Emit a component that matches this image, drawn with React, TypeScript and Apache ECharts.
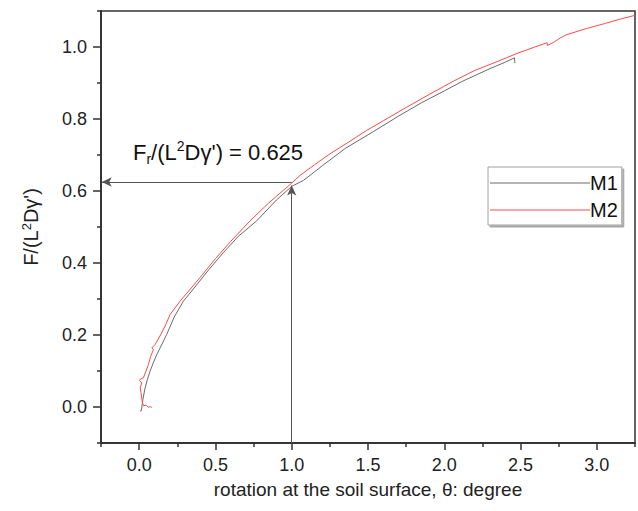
import React, { useEffect, useRef } from "react";
import * as echarts from "echarts";

const m1X = [0.007, 0.012, 0.017, 0.024, 0.039, 0.055, 0.072, 0.095, 0.116, 0.15, 0.181, 0.23, 0.29, 0.35, 0.45, 0.55, 0.65, 0.77, 0.9, 1.0, 1.076, 1.2, 1.35, 1.535, 1.7, 1.85, 2.0, 2.12, 2.3, 2.4, 2.46, 2.463];
const m1Y = [-0.01, -0.012, -0.003, 0.02, 0.053, 0.078, 0.1, 0.125, 0.146, 0.175, 0.202, 0.25, 0.294, 0.325, 0.378, 0.428, 0.474, 0.517, 0.575, 0.613, 0.629, 0.67, 0.718, 0.765, 0.808, 0.845, 0.878, 0.905, 0.94, 0.958, 0.97, 0.955];

const m2X = [0.083, 0.07, 0.061, 0.05, 0.039, 0.03, 0.022, 0.017, 0.012, 0.007, 0.017, 0.002, 0.01, 0.028, 0.045, 0.061, 0.075, 0.094, 0.083, 0.105, 0.14, 0.17, 0.203, 0.268, 0.33, 0.4, 0.5, 0.6, 0.727, 0.85, 1.0, 1.054, 1.15, 1.25, 1.37, 1.49, 1.6, 1.75, 1.9, 2.06, 2.2, 2.35, 2.47, 2.58, 2.674, 2.676, 2.72, 2.76, 2.8, 2.93, 3.05, 3.15, 3.25];
const m2Y = [-0.001, 0.001, -0.001, 0.004, 0.005, 0.003, 0.011, 0.025, 0.04, 0.053, 0.067, 0.074, 0.078, 0.081, 0.1, 0.118, 0.14, 0.16, 0.164, 0.174, 0.2, 0.225, 0.257, 0.294, 0.325, 0.36, 0.412, 0.46, 0.517, 0.567, 0.622, 0.643, 0.673, 0.703, 0.735, 0.768, 0.795, 0.832, 0.868, 0.905, 0.935, 0.96, 0.981, 0.998, 1.012, 1.004, 1.014, 1.025, 1.034, 1.051, 1.065, 1.077, 1.088];

const xTickLabels = [0, 0.5, 1.0, 1.5, 2.0, 2.5, 3.0];
const xMinorTicks = [-0.25, 0.25, 0.75, 1.25, 1.75, 2.25, 2.75, 3.25];
const yTickLabels = [0, 0.2, 0.4, 0.6, 0.8, 1.0];
const yMinorTicks = [-0.1, 0.1, 0.3, 0.5, 0.7, 0.9, 1.1];

const markX = 1.0;
const markY = 0.625;

const FONT = "'Liberation Sans', Arial, sans-serif";

export default function App() {
  const ref = useRef<HTMLDivElement>(null);
  useEffect(() => {
    if (!ref.current) return;
    const chart = echarts.init(ref.current, undefined, { renderer: "svg" });
    const axisLine = { show: true, onZero: false, lineStyle: { color: "#333", width: 1.5 } };
    const xBase = { type: "value", min: -0.25, max: 3.25, position: "bottom", splitLine: { show: false }, axisLine };
    const yBase = { type: "value", min: -0.1, max: 1.1, position: "left", splitLine: { show: false }, axisLine };
    chart.setOption({
      animation: false,
      backgroundColor: "#fff",
      textStyle: { fontFamily: FONT },
      grid: {
        left: 101, right: 3, top: 11, bottom: 68,
        show: true, borderColor: "#333", borderWidth: 1.5,
        outerBoundsMode: "none",
      },
      xAxis: [
        {
          ...xBase,
          name: "rotation at the soil surface, \u03b8: degree",
          nameLocation: "middle",
          nameGap: 37,
          nameTextStyle: { fontSize: 19, color: "#222", fontFamily: FONT },
          axisTick: { show: true, length: 7, lineStyle: { color: "#333", width: 1.5 }, customValues: xTickLabels },
          axisLabel: { show: true, fontSize: 18, color: "#222", margin: 13, fontFamily: FONT, customValues: xTickLabels, formatter: (v: number) => v.toFixed(1) },
        },
        {
          ...xBase,
          axisTick: { show: true, length: 4, lineStyle: { color: "#333", width: 1.5 }, customValues: xMinorTicks },
          axisLabel: { show: false },
        },
      ],
      yAxis: [
        {
          ...yBase,
          name: "{a|F/(L}{s|2}{a|D\u03b3')}",
          nameLocation: "middle",
          nameGap: 60,
          nameTextStyle: {
            rich: {
              a: { fontSize: 20, color: "#222", fontFamily: FONT },
              s: { fontSize: 13, color: "#222", fontFamily: FONT, verticalAlign: "top", padding: [0, 0, 8, 0] },
            },
          },
          axisTick: { show: true, length: 8, lineStyle: { color: "#333", width: 1.5 }, customValues: yTickLabels },
          axisLabel: { show: true, fontSize: 18, color: "#222", margin: 14, fontFamily: FONT, customValues: yTickLabels, formatter: (v: number) => v.toFixed(1) },
        },
        {
          ...yBase,
          axisTick: { show: true, length: 4, lineStyle: { color: "#333", width: 1.5 }, customValues: yMinorTicks },
          axisLabel: { show: false },
        },
      ],
      legend: {
        left: 488, top: 167, orient: "vertical",
        data: [{ name: "M1" }, { name: "M2" }],
        icon: "rect", itemWidth: 100, itemHeight: 1.2, itemGap: 5,
        padding: [5, 4, 4, 2],
        borderColor: "#a0a0a0", borderWidth: 1, backgroundColor: "#fff",
        shadowColor: "rgba(0,0,0,0.35)", shadowOffsetX: 2, shadowOffsetY: 2, shadowBlur: 1,
        textStyle: { fontSize: 20, color: "#111", fontFamily: FONT, lineHeight: 22, padding: [0, 0, 0, -5] },
      },
      graphic: [
        {
          type: "text",
          left: 133, top: 139,
          style: {
            text: "{a|F}{b|r}{a|/(L}{c|2}{a|D\u03b3') = 0.625}",
            rich: {
              a: { fontSize: 22, fill: "#111", fontFamily: FONT, lineHeight: 27 },
              b: { fontSize: 14, fill: "#111", fontFamily: FONT, verticalAlign: "bottom", padding: [6, 0, 0, 0] },
              c: { fontSize: 14, fill: "#111", fontFamily: FONT, verticalAlign: "top", padding: [0, 0, 8, 0] },
            },
          },
        },
      ],
      series: [
        {
          name: "M1", type: "line", xAxisIndex: 0, yAxisIndex: 0,
          data: m1X.map((x, i) => [x, m1Y[i]]),
          showSymbol: false, symbol: "none",
          lineStyle: { color: "#6a6a6a", width: 1 }, itemStyle: { color: "#6a6a6a" },
          markLine: {
            silent: true, animation: false,
            symbolSize: [7, 10],
            label: { show: false },
            lineStyle: { color: "#555", width: 1, type: "solid" },
            data: [
              [{ coord: [markX, -0.1], symbol: "none" }, { coord: [markX, markY - 0.01], symbol: "arrow" }],
              [{ coord: [markX, markY], symbol: "none" }, { coord: [-0.245, markY], symbol: "arrow" }],
            ],
          },
        },
        {
          name: "M2", type: "line", xAxisIndex: 0, yAxisIndex: 0,
          data: m2X.map((x, i) => [x, m2Y[i]]),
          showSymbol: false, symbol: "none",
          lineStyle: { color: "#ff4a4a", width: 1 }, itemStyle: { color: "#ff4a4a" },
        },
      ],
    });
    return () => chart.dispose();
  }, []);
  return <div ref={ref} style={{ position: "fixed", left: 0, top: 0, width: 638, height: 511 }} />;
}
